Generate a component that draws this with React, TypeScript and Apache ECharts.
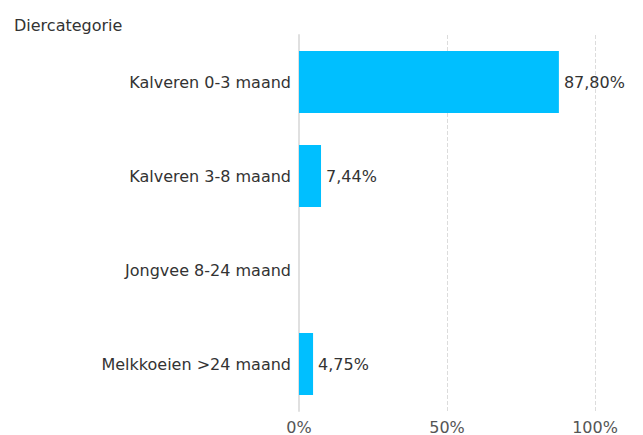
import React, { useEffect, useRef } from "react";
import * as echarts from "echarts";

const categories = [
  "Kalveren 0-3 maand",
  "Kalveren 3-8 maand",
  "Jongvee 8-24 maand",
  "Melkkoeien >24 maand",
];
const values = [87.8, 7.44, 0, 4.75];
const xTicks = [0, 50, 100];
const axisTitle = "Diercategorie";

const FONT = "'DejaVu Sans', sans-serif";

export default function App() {
  const ref = useRef<HTMLDivElement>(null);
  useEffect(() => {
    document.body.style.margin = "0";
    if (!ref.current) return;
    const chart = echarts.init(ref.current, undefined, { renderer: "svg" });
    chart.setOption({
      animation: false,
      textStyle: { fontFamily: FONT },
      title: {
        text: axisTitle,
        left: 14,
        top: 17,
        padding: 0,
        textStyle: { fontFamily: FONT, fontSize: 16, fontWeight: "normal", color: "#333" },
      },
      grid: { left: 299, right: 48, top: 35, bottom: 24, containLabel: false },
      xAxis: {
        type: "value",
        min: 0,
        max: 100,
        interval: 50,
        axisLine: { show: false },
        axisTick: { show: false },
        splitLine: { show: true, lineStyle: { type: "dashed", color: "#dcdcdc", width: 1 } },
        axisLabel: {
          margin: 8,
          fontFamily: FONT,
          fontSize: 16,
          color: "#555",
          formatter: (v: number) => (xTicks.includes(v) ? v + "%" : ""),
        },
      },
      yAxis: {
        type: "category",
        inverse: true,
        data: categories,
        axisLine: { show: true, lineStyle: { color: "#e0e0e0", width: 2 } },
        axisTick: { show: false },
        axisLabel: { margin: 8, fontFamily: FONT, fontSize: 16, color: "#333" },
      },
      series: [
        {
          type: "bar",
          data: values.map((v) => (v === 0 ? null : v)),
          barCategoryGap: "34%",
          itemStyle: { color: "#00BFFF" },
          label: {
            show: true,
            position: "right",
            distance: 5,
            fontFamily: FONT,
            fontSize: 16,
            color: "#333",
            formatter: (p: any) => p.value.toFixed(2).replace(".", ",") + "%",
          },
        },
      ],
    });
    return () => chart.dispose();
  }, []);
  return <div ref={ref} style={{ width: 643, height: 435 }} />;
}
